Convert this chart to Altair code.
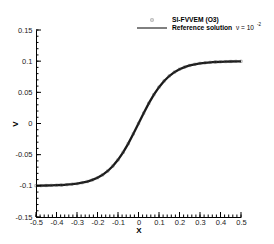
import altair as alt
import pandas as pd

# ---- data ----
x_vals = [-0.5, -0.475, -0.45, -0.425, -0.4, -0.375, -0.35, -0.325, -0.3, -0.275,
          -0.25, -0.225, -0.2, -0.175, -0.15, -0.125, -0.1, -0.075, -0.05, -0.025,
          0.0, 0.025, 0.05, 0.075, 0.1, 0.125, 0.15, 0.175, 0.2, 0.225,
          0.25, 0.275, 0.3, 0.325, 0.35, 0.375, 0.4, 0.425, 0.45, 0.475, 0.5]
v_vals = [-0.0998, -0.0997, -0.0995, -0.0993, -0.0990, -0.0987, -0.0981, -0.0974, -0.0964, -0.0950,
          -0.0931, -0.0905, -0.0870, -0.0824, -0.0762, -0.0682, -0.0583, -0.0462, -0.0322, -0.0165,
          0.0, 0.0165, 0.0322, 0.0462, 0.0583, 0.0682, 0.0762, 0.0824, 0.0870, 0.0905,
          0.0931, 0.0950, 0.0964, 0.0974, 0.0981, 0.0987, 0.0990, 0.0993, 0.0995, 0.0997, 0.0998]

x_ticks = [-0.5, -0.4, -0.3, -0.2, -0.1, 0, 0.1, 0.2, 0.3, 0.4, 0.5]
y_ticks = [-0.15, -0.1, -0.05, 0, 0.05, 0.1, 0.15]
x_minor = [round(-0.5 + 0.02 * i, 2) for i in range(51)]
y_minor = [round(-0.15 + 0.01 * i, 2) for i in range(31)]

series_points = "SI-FVVEM (O3)"
series_line = "Reference solution"
nu_text = "ν = 10"
nu_exp = "-2"

df = pd.DataFrame({"x": x_vals, "v": v_vals})

W, H = 205, 187
FONT = "Liberation Sans"
xs = alt.Scale(domain=[-0.5, 0.5], nice=False, zero=False)
ys = alt.Scale(domain=[-0.15, 0.15], nice=False, zero=False)
lab = "'' + datum.value"

base = alt.Chart(df)

line = base.mark_line(color="#1a1a1a", strokeWidth=2.3).encode(
    x=alt.X("x:Q", scale=xs, axis=alt.Axis(
        orient="bottom", values=x_ticks, labelExpr=lab, ticks=False, grid=False,
        labelFlush=False, domainColor="black", labelFont=FONT, labelFontSize=7.5,
        labelColor="#222", labelPadding=1, title="X", titleFont=FONT, titleFontSize=8,
        titleFontWeight="bold", titlePadding=1, titleColor="black")),
    y=alt.Y("v:Q", scale=ys, axis=alt.Axis(
        orient="left", values=y_ticks, labelExpr=lab, ticks=False, grid=False,
        labelFlush=False, domainColor="black", labelFont=FONT, labelFontSize=7.5,
        labelColor="#222", labelPadding=4, title="V", titleFont=FONT, titleFontSize=8,
        titleFontWeight="bold", titleX=-17, titleY=H / 2, titleColor="black")),
)

points = base.mark_point(shape="square", size=5, filled=False, color="#444", strokeWidth=0.6).encode(
    x=alt.X("x:Q", scale=xs, axis=None),
    y=alt.Y("v:Q", scale=ys, axis=None),
)

# inward ticks drawn from the tick lists through the shared scales
xt_major = alt.Chart(pd.DataFrame({"t": x_ticks})).mark_rule(color="black", strokeWidth=1).encode(
    x=alt.X("t:Q", scale=xs, axis=None), y=alt.value(H), y2=alt.value(H - 5))
xt_minor = alt.Chart(pd.DataFrame({"t": x_minor})).mark_rule(color="black", strokeWidth=1).encode(
    x=alt.X("t:Q", scale=xs, axis=None), y=alt.value(H), y2=alt.value(H - 2.5))
yt_major = alt.Chart(pd.DataFrame({"t": y_ticks})).mark_rule(color="black", strokeWidth=1).encode(
    y=alt.Y("t:Q", scale=ys, axis=None), x=alt.value(0), x2=alt.value(5))
yt_minor = alt.Chart(pd.DataFrame({"t": y_minor})).mark_rule(color="black", strokeWidth=1).encode(
    y=alt.Y("t:Q", scale=ys, axis=None), x=alt.value(0), x2=alt.value(2.5))

one = alt.Chart(pd.DataFrame({"a": [0]}))
leg_sq = one.mark_point(shape="square", size=6, filled=False, color="#444", strokeWidth=0.6).encode(
    x=alt.value(116), y=alt.value(-10))
leg_line = one.mark_rule(color="black", strokeWidth=1).encode(
    x=alt.value(101), x2=alt.value(131), y=alt.value(-2))
leg_t1 = one.mark_text(align="left", baseline="middle", font=FONT, fontSize=6.7,
                       fontWeight="bold", color="black").encode(
    x=alt.value(136), y=alt.value(-10), text=alt.value(series_points))
leg_t2 = one.mark_text(align="left", baseline="middle", font=FONT, fontSize=6.7,
                       fontWeight="bold", color="black").encode(
    x=alt.value(136), y=alt.value(-2), text=alt.value(series_line))
leg_t3 = one.mark_text(align="left", baseline="middle", font=FONT, fontSize=6.5,
                       color="black").encode(
    x=alt.value(200), y=alt.value(-2), text=alt.value(nu_text))
leg_t4 = one.mark_text(align="left", baseline="middle", font=FONT, fontSize=4.5,
                       color="black").encode(
    x=alt.value(221), y=alt.value(-5), text=alt.value(nu_exp))

chart = alt.layer(line, points, xt_major, xt_minor, yt_major, yt_minor,
                  leg_sq, leg_line, leg_t1, leg_t2, leg_t3, leg_t4).resolve_axis(
    x="independent", y="independent"
).properties(
    width=W, height=H,
    autosize=alt.AutoSizeParams(type="none"),
    padding={"left": 28, "top": 22, "right": 25, "bottom": 19},
    background="white",
).configure_view(strokeWidth=0)

chart.save("out.html", embed_options={"renderer": "svg", "actions": False})
